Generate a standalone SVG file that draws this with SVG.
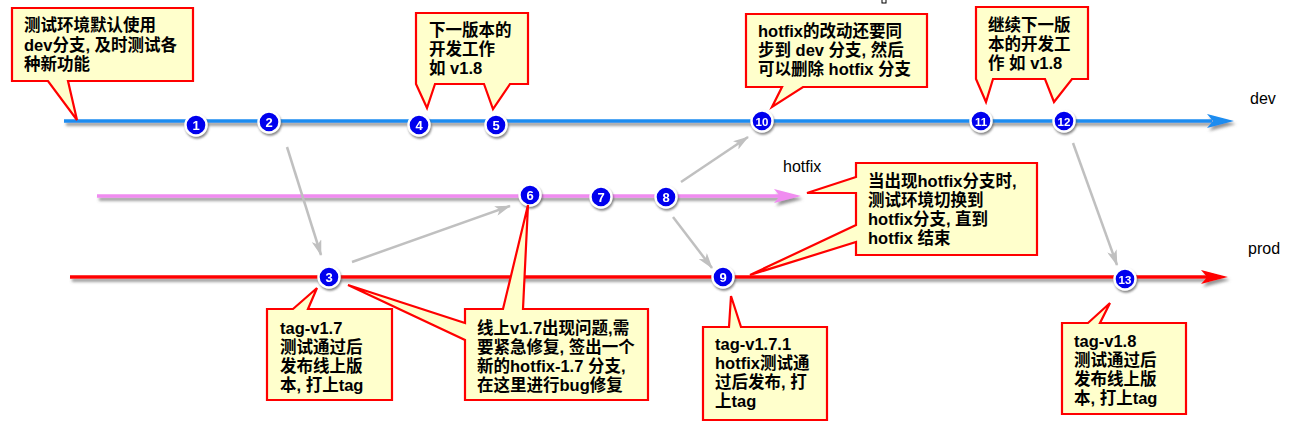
<svg xmlns="http://www.w3.org/2000/svg" width="1310" height="439" viewBox="0 0 1310 439">
<style>
.co{fill:#ffffcc;stroke:#ff0000;stroke-width:2.2;stroke-linejoin:miter}
.ct{font-family:"Liberation Sans","Noto Sans CJK SC",sans-serif;font-size:16.5px;font-weight:bold;fill:#000}
.lb{font-family:"Liberation Sans","Noto Sans CJK SC",sans-serif;font-size:16px;fill:#000}
.nd circle{fill:#0000ee;stroke:#fff;stroke-width:2.4}
.nt{font-family:"Liberation Sans",sans-serif;font-size:13px;font-weight:bold;fill:#fff;text-anchor:middle}
.ns{font-size:11.5px}
.ga{stroke:#c0c0c0;stroke-width:2.5;fill:none;marker-end:url(#ah)}
</style>
<defs>
<filter id="sh" x="-10%" y="-50%" width="120%" height="300%">
<feDropShadow dx="2" dy="3" stdDeviation="1.6" flood-color="#666" flood-opacity="0.7"/>
</filter>
<filter id="ns" x="-50%" y="-50%" width="200%" height="200%">
<feDropShadow dx="1" dy="2" stdDeviation="1.2" flood-color="#555" flood-opacity="0.7"/>
</filter>
<marker id="ah" viewBox="0 0 16 10" refX="15" refY="5" markerWidth="16" markerHeight="10" markerUnits="userSpaceOnUse" orient="auto">
<path d="M0,0 L16,5 L0,10 L4,5 Z" fill="#c0c0c0"/>
</marker>
</defs>
<rect width="1310" height="439" fill="#fff"/>
<rect x="882" y="-1" width="4" height="4" fill="#fff" stroke="#000" stroke-width="1"/>

<g id="branches" filter="url(#sh)">
<path d="M64,121 H1212" stroke="#1a8cf0" stroke-width="3.5" fill="none"/>
<path d="M1234,121 L1207,114 L1213,121 L1207,128 Z" fill="#1a8cf0"/>
<path d="M97,196 H785" stroke="#f08cf0" stroke-width="3.5" fill="none"/>
<path d="M801,196 L774,189 L780,196 L774,203 Z" fill="#f08cf0"/>
<path d="M70,277 H1208" stroke="#ff0000" stroke-width="3.5" fill="none"/>
<path d="M1228,277 L1201,270 L1207,277 L1201,284 Z" fill="#ff0000"/>
</g>
<text class="lb" x="1250" y="104">dev</text>
<text class="lb" x="783" y="172">hotfix</text>
<text class="lb" x="1248" y="254">prod</text>

<g id="connectors">
<line class="ga" x1="287" y1="147" x2="321" y2="255"/>
<line class="ga" x1="352" y1="262" x2="510" y2="206"/>
<line class="ga" x1="681" y1="182" x2="748" y2="137"/>
<line class="ga" x1="673" y1="217" x2="712" y2="268"/>
<line class="ga" x1="1073" y1="143" x2="1117" y2="265"/>
</g>

<g id="n1" class="nd" filter="url(#ns)"><circle cx="196" cy="125" r="10.5"/><text class="nt" x="196" y="129.5">1</text></g>
<g id="n2" class="nd" filter="url(#ns)"><circle cx="269" cy="122" r="10.5"/><text class="nt" x="269" y="126.5">2</text></g>
<g id="n4" class="nd" filter="url(#ns)"><circle cx="419" cy="125" r="10.5"/><text class="nt" x="419" y="129.5">4</text></g>
<g id="n5" class="nd" filter="url(#ns)"><circle cx="496" cy="125" r="10.5"/><text class="nt" x="496" y="129.5">5</text></g>
<g id="n10" class="nd" filter="url(#ns)"><circle cx="762" cy="121" r="10.5"/><text class="nt ns" x="762" y="125.5">10</text></g>
<g id="n11" class="nd" filter="url(#ns)"><circle cx="981" cy="121" r="10.5"/><text class="nt ns" x="981" y="125.5">11</text></g>
<g id="n12" class="nd" filter="url(#ns)"><circle cx="1064" cy="121" r="10.5"/><text class="nt ns" x="1064" y="125.5">12</text></g>
<g id="n6" class="nd" filter="url(#ns)"><circle cx="530" cy="195" r="10.5"/><text class="nt" x="530" y="199.5">6</text></g>
<g id="n7" class="nd" filter="url(#ns)"><circle cx="601" cy="197" r="10.5"/><text class="nt" x="601" y="201.5">7</text></g>
<g id="n8" class="nd" filter="url(#ns)"><circle cx="666" cy="197" r="10.5"/><text class="nt" x="666" y="201.5">8</text></g>
<g id="n3" class="nd" filter="url(#ns)"><circle cx="329" cy="277" r="10.5"/><text class="nt" x="329" y="281.5">3</text></g>
<g id="n9" class="nd" filter="url(#ns)"><circle cx="723" cy="277" r="10.5"/><text class="nt" x="723" y="281.5">9</text></g>
<g id="n13" class="nd" filter="url(#ns)"><circle cx="1125" cy="279" r="10.5"/><text class="nt ns" x="1125" y="283.5">13</text></g>

<g id="c1">
<path class="co" d="M12,8 H193 V81 H68 L77,120 L48,81 H12 Z"/>
<text class="ct" x="24" y="31">测试环境默认使用</text>
<text class="ct" x="24" y="51">dev分支, 及时测试各</text>
<text class="ct" x="24" y="70">种新功能</text>
</g>
<g id="c2">
<path class="co" d="M416,13 H528 V84 H510 L493,109 L484,84 H435 L427,108 L416,84 Z"/>
<text class="ct" x="429" y="36">下一版本的</text>
<text class="ct" x="429" y="55">开发工作</text>
<text class="ct" x="429" y="74">如 v1.8</text>
</g>
<g id="c3">
<path class="co" d="M746,14 H927 V87 H803 L772,107 L782,87 H746 Z"/>
<text class="ct" x="758" y="37">hotfix的改动还要同</text>
<text class="ct" x="758" y="56">步到 dev 分支, 然后</text>
<text class="ct" x="758" y="75">可以删除 hotfix 分支</text>
</g>
<g id="c4">
<path class="co" d="M976,7 H1088 V79 H1072 L1054,102 L1045,79 H993 L986,102 L976,79 Z"/>
<text class="ct" x="988" y="31">继续下一版</text>
<text class="ct" x="988" y="50">本的开发工</text>
<text class="ct" x="988" y="69">作 如 v1.8</text>
</g>
<g id="c5">
<path class="co" d="M856,163 H1037 V255 H856 V242 L750,275 L856,225 V193 L807,193 L856,177 Z"/>
<text class="ct" x="868" y="187">当出现hotfix分支时,</text>
<text class="ct" x="868" y="206">测试环境切换到</text>
<text class="ct" x="868" y="225">hotfix分支, 直到</text>
<text class="ct" x="868" y="244">hotfix 结束</text>
</g>
<g id="c6">
<path class="co" d="M267,309 H293 L317,288 L308,309 H392 V400 H267 Z"/>
<text class="ct" x="280" y="334">tag-v1.7</text>
<text class="ct" x="280" y="353">测试通过后</text>
<text class="ct" x="280" y="372">发布线上版</text>
<text class="ct" x="280" y="391">本, 打上tag</text>
</g>
<g id="c7">
<path class="co" d="M465,309 H503 L528,205 L523,309 H648 V400 H465 V340 L348,285 L465,323 Z"/>
<text class="ct" x="477" y="334">线上v1.7出现问题,需</text>
<text class="ct" x="477" y="353">要紧急修复, 签出一个</text>
<text class="ct" x="477" y="372">新的hotfix-1.7 分支,</text>
<text class="ct" x="477" y="391">在这里进行bug修复</text>
</g>
<g id="c8">
<path class="co" d="M703,327 H729 L731,296 L741,327 H827 V420 H703 Z"/>
<text class="ct" x="715" y="350">tag-v1.7.1</text>
<text class="ct" x="715" y="369">hotfix测试通</text>
<text class="ct" x="715" y="388">过后发布, 打</text>
<text class="ct" x="715" y="407">上tag</text>
</g>
<g id="c9">
<path class="co" d="M1062,323 H1088 L1110,303 L1100,323 H1186 V414 H1062 Z"/>
<text class="ct" x="1074" y="347">tag-v1.8</text>
<text class="ct" x="1074" y="366">测试通过后</text>
<text class="ct" x="1074" y="385">发布线上版</text>
<text class="ct" x="1074" y="404">本, 打上tag</text>
</g>
</svg>
